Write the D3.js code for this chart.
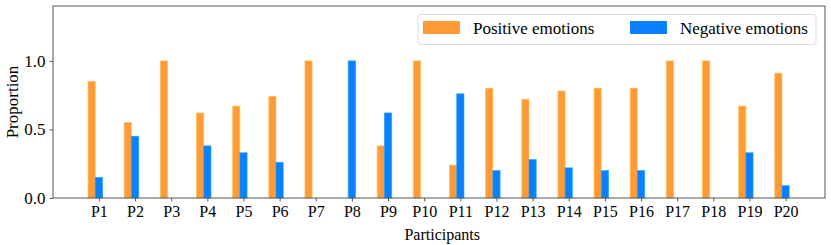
<!DOCTYPE html>
<html lang="en">
<head>
<meta charset="UTF-8"/>
<title>emotions</title>
<script src="https://d3js.org/d3.v7.min.js"></script>
<style>
  body { margin: 0; background: #fff; }
  text { font-family: "Liberation Serif", "Times New Roman", serif; fill: #000; }
  .axis path, .axis line { stroke: #555; }
</style>
</head>
<body>
<div id="chart"></div>
<script>
// data
var participants = ["P1","P2","P3","P4","P5","P6","P7","P8","P9","P10",
                    "P11","P12","P13","P14","P15","P16","P17","P18","P19","P20"]
var positive = [0.85, 0.55, 1.0, 0.62, 0.67, 0.74, 1.0, 0.0, 0.38, 1.0,
                0.24, 0.80, 0.72, 0.78, 0.80, 0.80, 1.0, 1.0, 0.67, 0.91]
var negative = [0.15, 0.45, 0.0, 0.38, 0.33, 0.26, 0.0, 1.0, 0.62, 0.0,
                0.76, 0.20, 0.28, 0.22, 0.20, 0.20, 0.0, 0.0, 0.33, 0.09]
var yTicks = [0.0, 0.5, 1.0]
var seriesNames = ["Positive emotions", "Negative emotions"]
var colors = ["#FF9A38", "#0A80FF"]

var width = 831, height = 245
var plotL = 53, plotR = 825, plotT = 6, plotB = 198

var svg = d3.select("#chart").append("svg")
    .attr("width", width)
    .attr("height", height)

// bars sit at 1..20, positive shifted left by one bar width
var barW = 0.2
var x = d3.scaleLinear().domain([-0.27, 21.09]).range([plotL, plotR])
var y = d3.scaleLinear().domain([0, 1.4]).range([plotB, plotT])

function drawBars(vals, offset, color) {
  svg.append("g").selectAll("rect")
    .data(vals)
    .join("rect")
      .attr("x", function(d, i) { return x(i + 1 + offset - barW / 2) })
      .attr("width", x(barW) - x(0))
      .attr("y", function(d) { return y(d) })
      .attr("height", function(d) { return y(0) - y(d) })
      .attr("fill", color)
      .attr("stroke", d3.color(color).brighter(0.6))
      .attr("stroke-opacity", 0.6)
      .attr("stroke-width", 1)
}
drawBars(positive, -barW, colors[0])
drawBars(negative, 0, colors[1])

// frame
svg.append("rect")
    .attr("x", plotL).attr("y", plotT)
    .attr("width", plotR - plotL).attr("height", plotB - plotT)
    .attr("fill", "none").attr("stroke", "#555").attr("stroke-width", 1)

// x axis
var xAxis = svg.append("g").attr("class", "axis")
    .attr("transform", "translate(0," + plotB + ")")
    .call(d3.axisBottom(x)
      .tickValues(d3.range(1, 21))
      .tickFormat(function(d) { return participants[d - 1] })
      .tickSize(3.5).tickPadding(4))
xAxis.select(".domain").remove()
xAxis.selectAll("text").style("font-size", "16px")

// y axis
var yAxis = svg.append("g").attr("class", "axis")
    .attr("transform", "translate(" + plotL + ",0)")
    .call(d3.axisLeft(y)
      .tickValues(yTicks)
      .tickFormat(d3.format(".1f"))
      .tickSize(3.5).tickPadding(4))
yAxis.select(".domain").remove()
yAxis.selectAll("text").style("font-size", "17px")

svg.append("text")
    .attr("x", x(10.5)).attr("y", 240)
    .attr("text-anchor", "middle")
    .style("font-size", "16px")
    .text("Participants")

svg.append("text")
    .attr("transform", "translate(18," + (plotB + plotT) / 2 + ") rotate(-90)")
    .attr("text-anchor", "middle")
    .style("font-size", "17px")
    .text("Proportion")

// legend
var lg = svg.append("g")
lg.append("rect")
    .attr("x", 418).attr("y", 14.5)
    .attr("width", 398).attr("height", 30)
    .attr("rx", 3)
    .attr("fill", "#fff").attr("fill-opacity", 0.8)
    .attr("stroke", "#ddd")
var legX = [423, 630]
seriesNames.forEach(function(name, i) {
  lg.append("rect")
      .attr("x", legX[i]).attr("y", 21)
      .attr("width", 37).attr("height", 13)
      .attr("fill", colors[i])
  lg.append("text")
      .attr("x", legX[i] + 50).attr("y", 34)
      .style("font-size", "17px")
      .text(name)
})
</script>
</body>
</html>
